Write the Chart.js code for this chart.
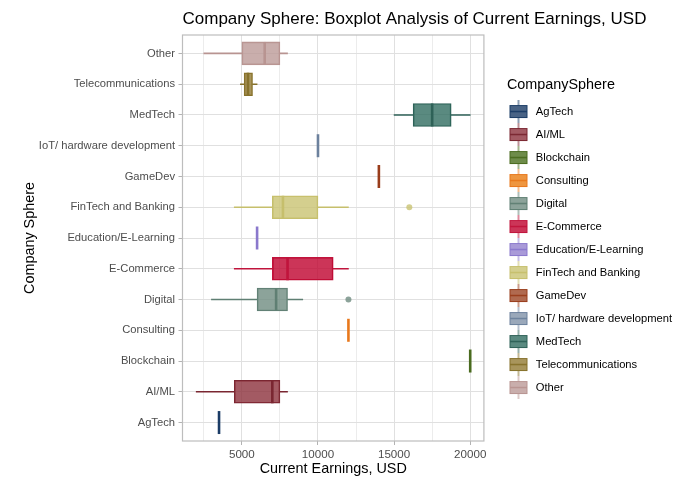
<!DOCTYPE html>
<html>
<head>
<meta charset="utf-8">
<script src="https://cdn.jsdelivr.net/npm/chart.js@4.4.1/dist/chart.umd.min.js"></script>
<style>
html,body{margin:0;padding:0;background:#ffffff;}
#wrap{width:698px;height:489px;position:relative;}
</style>
</head>
<body>
<div id="wrap"><canvas id="c"></canvas></div>
<script>
const categories = ['AgTech','AI/ML','Blockchain','Consulting','Digital','E-Commerce','Education/E-Learning','FinTech and Banking','GameDev','IoT/ hardware development','MedTech','Telecommunications','Other'];
const whiskerLow  = [3500, 2000, 20000, 12000, 3000,  4500, 6000,  4500, 14000, 10000, 15000, 4900, 2500];
const q1          = [3500, 4500, 20000, 12000, 6000,  7000, 6000,  7000, 14000, 10000, 16250, 5150, 5000];
const median      = [3500, 7000, 20000, 12000, 7250,  8000, 6000,  7700, 14000, 10000, 17500, 5400, 6500];
const q3          = [3500, 7500, 20000, 12000, 8000, 11000, 6000, 10000, 14000, 10000, 18750, 5700, 7500];
const whiskerHigh = [3500, 8000, 20000, 12000, 9000, 12000, 6000, 12000, 14000, 10000, 20000, 6000, 8000];
const outlierCategory = ['FinTech and Banking', 'Digital'];
const outlierValue = [16000, 12000];
const xGridValues = [2500, 5000, 7500, 10000, 12500, 15000, 17500, 20000];
const xTickLabels = ['', '5000', '', '10000', '', '15000', '', '20000'];

const fillColors = ['rgba(27,60,102,0.8)','rgba(140,49,60,0.8)','rgba(74,111,29,0.8)','rgba(234,124,16,0.8)','rgba(111,140,129,0.8)','rgba(191,3,46,0.8)','rgba(147,129,206,0.8)','rgba(201,195,114,0.8)','rgba(156,69,36,0.8)','rgba(129,146,169,0.8)','rgba(49,109,96,0.8)','rgba(146,122,51,0.8)','rgba(188,154,151,0.8)'];
const lineColors = ['#1b3c66','#7a2631','#4a6b1f','#e8781c','#5f7f73','#c0143c','#8a78cc','#c6bf6c','#993d1b','#6c819d','#2e6157','#86712b','#b89491'];

const titleText = 'Company Sphere: Boxplot Analysis of Current Earnings, USD';
const xTitle = 'Current Earnings, USD';
const yTitle = 'Company Sphere';
const legendTitle = 'CompanySphere';

const FONT = "'Liberation Sans', Arial, Helvetica, sans-serif";
Chart.defaults.font.family = FONT;

function makeGlyph(fill, line) {
  const c = document.createElement('canvas');
  c.width = 20; c.height = 23;
  const g = c.getContext('2d');
  g.strokeStyle = line; g.lineWidth = 1;
  g.beginPath(); g.moveTo(10, 0); g.lineTo(10, 5); g.moveTo(10, 18); g.lineTo(10, 23); g.stroke();
  g.fillStyle = fill; g.fillRect(1, 5, 18, 13);
  g.strokeRect(1.5, 5.5, 17, 12);
  g.lineWidth = 1.5;
  g.beginPath(); g.moveTo(1, 11.5); g.lineTo(19, 11.5); g.stroke();
  return c;
}
const glyphs = categories.map((c, i) => makeGlyph(fillColors[i], lineColors[i]));

const boxData = categories.map((c, i) => ({ x: [q1[i], q3[i]], y: i + 1 }));
const lowData = categories.map((c, i) => ({ x: [whiskerLow[i], q1[i]], y: i + 1 }));
const highData = categories.map((c, i) => ({ x: [q3[i], whiskerHigh[i]], y: i + 1 }));
const outData = outlierCategory.map((c, k) => ({ x: outlierValue[k], y: categories.indexOf(c) + 1 }));
const outColors = outlierCategory.map(c => fillColors[categories.indexOf(c)]);

const extras = {
  id: 'extras',
  afterLayout(chart) {
    const l = chart.legend;
    if (l) { l.left += 11; l.right += 11; }
  },
  afterDatasetsDraw(chart) {
    const ctx = chart.ctx, xs = chart.scales.x;
    const meta = chart.getDatasetMeta(0);
    ctx.save();
    meta.data.forEach((el, i) => {
      const x = xs.getPixelForValue(median[i]);
      const h = el.height;
      ctx.strokeStyle = lineColors[i];
      ctx.lineWidth = 2.6;
      ctx.beginPath(); ctx.moveTo(x, el.y - h / 2); ctx.lineTo(x, el.y + h / 2); ctx.stroke();
    });
    ctx.restore();
  },
  afterDraw(chart) {
    const ctx = chart.ctx, a = chart.chartArea;
    ctx.save();
    ctx.strokeStyle = '#bdbdbd'; ctx.lineWidth = 1.2;
    ctx.strokeRect(a.left, a.top, a.right - a.left, a.bottom - a.top);
    ctx.font = '17px ' + FONT;
    ctx.fillStyle = '#000000';
    ctx.textAlign = 'left'; ctx.textBaseline = 'middle';
    ctx.fillText(titleText, a.left, 19.2);
    ctx.restore();
  }
};

new Chart(document.getElementById('c'), {
  type: 'bar',
  data: {
    datasets: [
      { data: boxData, backgroundColor: fillColors, borderColor: lineColors, borderWidth: 1, borderSkipped: false,
        grouped: false, barPercentage: 1, categoryPercentage: 1, maxBarThickness: 23, order: 1 },
      { data: lowData, backgroundColor: lineColors, borderWidth: 0, grouped: false,
        barPercentage: 1, categoryPercentage: 1, maxBarThickness: 1, order: 2 },
      { data: highData, backgroundColor: lineColors, borderWidth: 0, grouped: false,
        barPercentage: 1, categoryPercentage: 1, maxBarThickness: 1, order: 2 },
      { type: 'scatter', indexAxis: 'x', data: outData, backgroundColor: outColors, borderColor: outColors,
        pointRadius: 3, pointBorderWidth: 0, order: 0 }
    ]
  },
  options: {
    indexAxis: 'y',
    responsive: true,
    maintainAspectRatio: false,
    animation: false,
    events: [],
    layout: { padding: { top: 35, right: 27, bottom: 0, left: 0 } },
    scales: {
      x: {
        type: 'linear', min: 1100, max: 20900,
        border: { display: false },
        grid: {
          color: c => (c.tick && c.tick.value % 5000 === 0) ? '#e0e0e0' : '#ececec',
          lineWidth: 1,
          tickLength: 4,
          tickColor: c => (c.tick && c.tick.value % 5000 === 0) ? '#b3b3b3' : 'rgba(0,0,0,0)'
        },
        afterBuildTicks: s => { s.ticks = xGridValues.map(v => ({ value: v })); },
        ticks: {
          autoSkip: false, maxRotation: 0, minRotation: 0, padding: 3,
          color: '#4d4d4d', font: { size: 11.6 },
          callback: (v, i) => xTickLabels[xGridValues.indexOf(v)] || ''
        },
        title: { display: true, text: xTitle, color: '#000000', font: { size: 14.4 }, padding: { top: 0, bottom: 11 } },
        afterFit: s => { s.height = 48; }
      },
      y: {
        type: 'linear', min: 0.4, max: 13.6, offset: false,
        border: { display: false },
        grid: { offset: false, color: '#e0e0e0', lineWidth: 1, tickLength: 4, tickColor: '#b3b3b3' },
        afterBuildTicks: s => { s.ticks = categories.map((c, i) => ({ value: i + 1 })); },
        ticks: {
          autoSkip: false, padding: 3.5,
          color: '#4d4d4d', font: { size: 11.2 },
          callback: v => categories[Math.round(v) - 1] || ''
        },
        title: { display: true, text: yTitle, color: '#000000', font: { size: 14.4 }, padding: { top: 21, bottom: 0 } },
        afterFit: s => { s.width = 182.5; }
      }
    },
    plugins: {
      tooltip: { enabled: false },
      title: { display: false },
      legend: {
        position: 'right', align: 'center', fullSize: false, maxWidth: 400,
        onClick: null,
        title: { display: true, text: '   ' + legendTitle, position: 'start', color: '#000000', font: { size: 14.4 }, padding: { top: 7, bottom: -1.2 } },
        labels: {
          usePointStyle: true, pointStyleWidth: 23.5, padding: 11.8, color: '#1a1a1a', font: { size: 11.2 },
          generateLabels: () => categories.map((c, i) => ({
            text: c, pointStyle: glyphs[i], fillStyle: fillColors[i], strokeStyle: lineColors[i],
            lineWidth: 0, hidden: false, index: i
          }))
        }
      }
    }
  },
  plugins: [extras]
});
</script>
</body>
</html>
